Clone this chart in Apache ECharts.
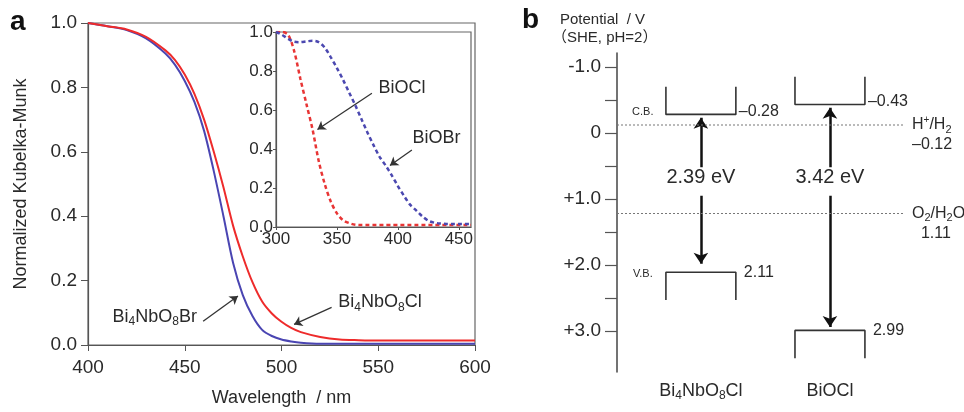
<!DOCTYPE html>
<html>
<head>
<meta charset="utf-8">
<script src="https://cdn.jsdelivr.net/npm/echarts@6/dist/echarts.min.js"></script>
<style>
  html, body { margin: 0; padding: 0; background: #fff; }
  #chart { width: 964px; height: 412px; }
</style>
</head>
<body>
<div id="chart"></div>
<script>
// panel a - main spectra (normalized Kubelka-Munk)
const wlMain = [400, 410, 420, 430, 440, 445, 450, 455, 460, 465, 470, 475, 480, 485, 490, 495, 500, 505, 510, 520, 530, 540, 550, 575, 600];
const kmBr = [1.0, 0.99, 0.978, 0.952, 0.905, 0.87, 0.82, 0.755, 0.665, 0.54, 0.40, 0.255, 0.155, 0.09, 0.047, 0.028, 0.017, 0.011, 0.007, 0.004, 0.004, 0.004, 0.004, 0.004, 0.004];
const kmCl = [1.0, 0.99, 0.98, 0.957, 0.915, 0.885, 0.84, 0.78, 0.70, 0.60, 0.49, 0.37, 0.275, 0.195, 0.135, 0.098, 0.072, 0.053, 0.04, 0.025, 0.017, 0.015, 0.014, 0.014, 0.014];

// inset spectra
const wlInset = [300, 305, 310, 315, 320, 325, 330, 335, 340, 345, 350, 355, 360, 365, 370, 375, 380, 385, 390, 395, 400, 405, 410, 415, 420, 425, 430, 435, 440, 445, 450, 455, 460];
const kmBiOCl = [1.0, 1.0, 0.985, 0.90, 0.76, 0.63, 0.50, 0.34, 0.22, 0.13, 0.07, 0.035, 0.02, 0.012, 0.01, 0.01, 0.01, 0.01, 0.01, 0.01, 0.01, 0.01, 0.01, 0.01, 0.01, 0.01, 0.01, 0.01, 0.01, 0.01, 0.01, 0.01, 0.01];
const kmBiOBr = [1.0, 0.985, 0.965, 0.95, 0.948, 0.952, 0.955, 0.948, 0.92, 0.87, 0.815, 0.755, 0.69, 0.625, 0.555, 0.485, 0.42, 0.36, 0.315, 0.265, 0.21, 0.16, 0.115, 0.085, 0.055, 0.032, 0.022, 0.018, 0.016, 0.015, 0.015, 0.015, 0.015];

// panel b - band positions (V vs SHE, pH=2)
const materials = ['Bi{s|4}NbO{s|8}Cl', 'BiOCl'];
const cbLevels = [-0.28, -0.43];
const vbLevels = [2.11, 2.99];
const gapLabels = ['2.39 eV', '3.42 eV'];
const upTips = [-0.23, -0.38];
const downTips = [1.98, 2.94];
const redoxLines = [-0.12, 1.22];
const redoxNames = ['H{p|+}/H{s|2}', 'O{s|2}/H{s|2}O'];
const redoxLabels = ['\u20130.12', '1.11'];
const potTicks = [-1, 0, 1, 2, 3];

const font = 'Liberation Sans, Arial, sans-serif';
const txt = '#2a2a2a';
const axisCol = '#555';
const rich = {
  n: { fontSize: 18, lineHeight: 22, color: txt, fontFamily: font },
  s: { fontSize: 12, lineHeight: 12, verticalAlign: 'bottom', color: txt, fontFamily: font },
  p: { fontSize: 11, lineHeight: 10, verticalAlign: 'top', color: txt, fontFamily: font }
};
const richB = {
  n: { fontSize: 16, lineHeight: 20, color: txt, fontFamily: font },
  s: { fontSize: 11, lineHeight: 11, verticalAlign: 'bottom', color: txt, fontFamily: font },
  p: { fontSize: 10, lineHeight: 9, verticalAlign: 'top', color: txt, fontFamily: font }
};
// wrap plain parts of a formula into the n style
function fmt(s) {
  return s.split(/(\{[sp]\|[^}]*\})/).map(t => (t === '' || t[0] === '{') ? t : '{n|' + t + '}').join('');
}

const bxMin = -0.65, bxMax = 1.566;
const halfW = 0.271, arm = 0.42;

let chart = echarts.init(document.getElementById('chart'));

let series = [
  {
    type: 'line', xAxisIndex: 0, yAxisIndex: 0, smooth: 0.3, showSymbol: false,
    lineStyle: { color: '#4a45b2', width: 2 },
    data: wlMain.map((w, i) => [w, kmBr[i]])
  },
  {
    type: 'line', xAxisIndex: 0, yAxisIndex: 0, smooth: 0.3, showSymbol: false,
    lineStyle: { color: '#ee2b2b', width: 2 },
    data: wlMain.map((w, i) => [w, kmCl[i]])
  },
  {
    type: 'line', xAxisIndex: 1, yAxisIndex: 1, smooth: 0.3, showSymbol: false,
    lineStyle: { color: '#e83535', width: 2.5, type: [4, 3] },
    data: wlInset.map((w, i) => [w, kmBiOCl[i]])
  },
  {
    type: 'line', xAxisIndex: 1, yAxisIndex: 1, smooth: 0.3, showSymbol: false,
    lineStyle: { color: '#4b48b0', width: 2.5, type: [4, 3] },
    data: wlInset.map((w, i) => [w, kmBiOBr[i]])
  },
  // annotation arrows, panel a
  {
    type: 'lines', coordinateSystem: 'cartesian2d', xAxisIndex: 0, yAxisIndex: 0,
    symbol: ['none', 'arrow'], symbolSize: [1, 8],
    lineStyle: { color: '#333', width: 1.3, opacity: 1 },
    data: [
      { coords: [[459.5, 0.074], [477.5, 0.152]] },
      { coords: [[525.9, 0.117], [506.5, 0.064]] }
    ]
  },
  {
    type: 'lines', coordinateSystem: 'cartesian2d', xAxisIndex: 1, yAxisIndex: 1,
    symbol: ['none', 'arrow'], symbolSize: [1, 8],
    lineStyle: { color: '#333', width: 1.3, opacity: 1 },
    data: [
      { coords: [[378.7, 0.686], [334, 0.5]] },
      { coords: [[411.5, 0.395], [393.5, 0.315]] }
    ]
  },
  {
    type: 'scatter', xAxisIndex: 0, yAxisIndex: 0, symbolSize: 0,
    itemStyle: { opacity: 1 },
    label: { show: true, position: 'inside', color: txt, rich: rich },
    data: [
      { value: [434.5, 0.088], label: { formatter: fmt('Bi{s|4}NbO{s|8}Br') } },
      { value: [550.9, 0.132], label: { formatter: fmt('Bi{s|4}NbO{s|8}Cl') } }
    ]
  },
  {
    type: 'scatter', xAxisIndex: 1, yAxisIndex: 1, symbolSize: 0,
    itemStyle: { opacity: 1 },
    label: { show: true, position: 'inside', color: txt, rich: rich },
    data: [
      { value: [403.3, 0.712], label: { formatter: fmt('BiOCl') } },
      { value: [431.6, 0.455], label: { formatter: fmt('BiOBr') } }
    ]
  }
];

// panel b: redox levels
redoxLines.forEach((v, i) => {
  series.push({
    type: 'line', xAxisIndex: 2, yAxisIndex: 2, showSymbol: false, silent: true,
    lineStyle: { color: '#777', width: 1.2, type: [2, 2] },
    data: [[bxMin, v], [bxMax, v]]
  });
});
// band edges as brackets
materials.forEach((m, i) => {
  series.push({
    type: 'line', xAxisIndex: 2, yAxisIndex: 2, showSymbol: false, silent: true,
    lineStyle: { color: '#333', width: 1.6 },
    data: [[i - halfW, cbLevels[i] - arm], [i - halfW, cbLevels[i]], [i + halfW, cbLevels[i]], [i + halfW, cbLevels[i] - arm]]
  });
  series.push({
    type: 'line', xAxisIndex: 2, yAxisIndex: 2, showSymbol: false, silent: true,
    lineStyle: { color: '#333', width: 1.6 },
    data: [[i - halfW, vbLevels[i] + arm], [i - halfW, vbLevels[i]], [i + halfW, vbLevels[i]], [i + halfW, vbLevels[i] + arm]]
  });
});
series.push({
  type: 'lines', coordinateSystem: 'cartesian2d', xAxisIndex: 2, yAxisIndex: 2,
  symbol: ['none', 'arrow'], symbolSize: [1, 11],
  lineStyle: { color: '#111', width: 2.5, opacity: 1 },
  data: materials.map((m, i) => ({ coords: [[i, 0.52], [i, upTips[i]]] }))
    .concat(materials.map((m, i) => ({ coords: [[i, 0.95], [i, downTips[i]]] })))
});
let bLabels = [];
materials.forEach((m, i) => {
  bLabels.push({ value: [i, 0.68], label: { position: 'inside', formatter: gapLabels[i], fontSize: 20 } });
  bLabels.push({ value: [i + halfW, cbLevels[i]], label: { position: 'right', distance: 3, offset: [0, -3], formatter: '\u2013' + Math.abs(cbLevels[i]).toFixed(2) } });
  bLabels.push({ value: [i + halfW, vbLevels[i]], label: { position: 'right', distance: 8, formatter: vbLevels[i].toFixed(2) } });
});
bLabels.push({ value: [-0.45, -0.31], label: { position: 'inside', formatter: 'C.B.', fontSize: 11 } });
bLabels.push({ value: [-0.45, 2.13], label: { position: 'inside', formatter: 'V.B.', fontSize: 11 } });
redoxLines.forEach((v, i) => {
  bLabels.push({
    value: [bxMax, v],
    label: {
      position: 'right', distance: 9, offset: [0, 10], align: 'left',
      formatter: fmt(redoxNames[i]) + '\n' + (i === 1 ? '{n|  ' + redoxLabels[i] + '}' : '{n|' + redoxLabels[i] + '}'),
      rich: richB
    }
  });
});
series.push({
  type: 'scatter', xAxisIndex: 2, yAxisIndex: 2, symbolSize: 0, clip: false,
  itemStyle: { opacity: 1 },
  label: { show: true, color: txt, fontSize: 16, fontFamily: font },
  data: bLabels
});

let option = {
  animation: false,
  textStyle: { fontFamily: font },
  graphic: [
    { type: 'text', left: 10, top: 8, style: { text: 'a', fontSize: 28, fontWeight: 'bold', fill: '#111', fontFamily: font } },
    { type: 'text', left: 522, top: 6, style: { text: 'b', fontSize: 28, fontWeight: 'bold', fill: '#111', fontFamily: font } },
    { type: 'text', left: 560, top: 12, style: { text: 'Potential  / V', fontSize: 15, fill: txt, fontFamily: font } },
    { type: 'text', left: 552, top: 30, style: { text: '（SHE, pH=2）', fontSize: 15, fill: txt, fontFamily: 'Liberation Sans, Noto Sans CJK JP, sans-serif' } }
  ],
  grid: [
    { left: 88, top: 23, width: 387, height: 325, show: true, borderColor: '#666', borderWidth: 1.2 },
    { left: 276, top: 32, width: 195, height: 195, show: true, borderColor: '#666', borderWidth: 1.2, backgroundColor: '#fff' },
    { left: 617, top: 53, width: 286, height: 319 }
  ],
  xAxis: [
    {
      gridIndex: 0, type: 'value', min: 400, max: 600, interval: 50,
      name: 'Wavelength  / nm', nameLocation: 'middle', nameGap: 44,
      nameTextStyle: { fontSize: 18, color: txt },
      axisLine: { lineStyle: { color: axisCol, width: 1.2 } },
      axisTick: { length: 6, lineStyle: { color: axisCol } },
      axisLabel: { fontSize: 19, color: txt, margin: 13 },
      splitLine: { show: false }
    },
    {
      gridIndex: 1, type: 'value', min: 300, max: 460, interval: 50,
      axisLine: { lineStyle: { color: axisCol, width: 1.2 } },
      axisTick: { length: 3, lineStyle: { color: axisCol } },
      axisLabel: { fontSize: 17, color: txt, margin: 4 },
      splitLine: { show: false }
    },
    {
      gridIndex: 2, type: 'value', min: bxMin, max: bxMax,
      axisLine: { show: false, onZero: false },
      axisTick: { show: false },
      splitLine: { show: false },
      axisLabel: {
        customValues: [0, 1], margin: 8, formatter: v => fmt(materials[Math.round(v)]),
        rich: rich
      }
    }
  ],
  yAxis: [
    {
      gridIndex: 0, type: 'value', min: 0, max: 1, interval: 0.2,
      name: 'Normalized Kubelka-Munk', nameLocation: 'middle', nameGap: 58,
      nameTextStyle: { fontSize: 18, color: txt },
      axisLine: { lineStyle: { color: axisCol, width: 1.2 } },
      axisTick: { length: 7, lineStyle: { color: axisCol } },
      axisLabel: { fontSize: 19, color: txt, margin: 11, formatter: v => v.toFixed(1) },
      splitLine: { show: false }
    },
    {
      gridIndex: 1, type: 'value', min: 0, max: 1, interval: 0.2,
      axisLine: { lineStyle: { color: axisCol, width: 1.2 } },
      axisTick: { length: 3, lineStyle: { color: axisCol } },
      axisLabel: { fontSize: 17, color: txt, margin: 3, formatter: v => v.toFixed(1) },
      splitLine: { show: false }
    },
    {
      gridIndex: 2, type: 'value', inverse: true, min: -1.21, max: 3.62,
      axisLine: { onZero: false, lineStyle: { color: '#444', width: 1.5 } },
      axisTick: { length: 12, lineStyle: { color: '#555', width: 1.2 }, customValues: [-1, -0.5, 0, 0.5, 1, 1.5, 2, 2.5, 3] },
      axisLabel: {
        customValues: potTicks, fontSize: 19, color: txt, margin: 16,
        formatter: v => v === 0 ? '0' : (v > 0 ? '+' : '') + v.toFixed(1)
      },
      splitLine: { show: false }
    }
  ],
  series: series
};
chart.setOption(option);
window.onresize = () => {
  chart.resize();
};
</script>
</body>
</html>
